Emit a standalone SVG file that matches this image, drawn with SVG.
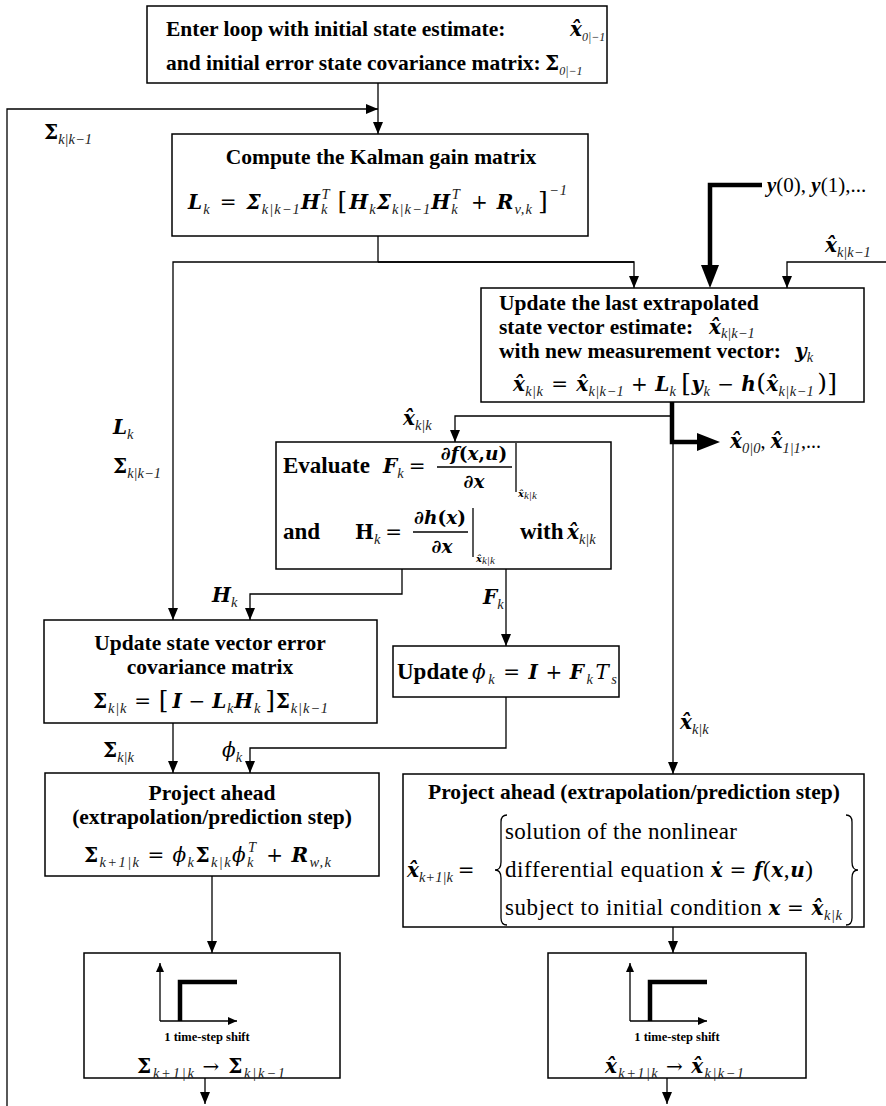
<svg xmlns="http://www.w3.org/2000/svg" width="886" height="1106" viewBox="0 0 886 1106">
<style>
text{font-family:"Liberation Serif","DejaVu Serif",serif;fill:#000;font-size:21px}
.box{fill:#fff;stroke:#000;stroke-width:1.5}
.ln{fill:none;stroke:#000;stroke-width:1.3}
.tk{fill:none;stroke:#000;stroke-width:4.5}
.b{font-weight:bold;font-size:21.5px}
.cmb{font-weight:bold;font-size:23px}
.cm{font-size:23px}
.m,.dj{font-family:"DejaVu Serif",serif;font-size:20px}
.bi{font-weight:bold;font-style:italic}
.bu{font-weight:bold}
.it{font-style:italic}
.sb{font-family:"Liberation Serif",serif;font-size:14.5px;font-style:italic;font-weight:normal;fill:#222}
.st{font-family:"Liberation Serif",serif;font-size:12px;font-style:italic;font-weight:normal;fill:#222}
.ss{font-family:"Liberation Serif",serif;font-size:11px;font-style:italic;font-weight:normal;fill:#222}
.br{font-size:25px;font-weight:normal}
.fr{font-family:"DejaVu Serif",serif;font-size:18.5px;font-weight:bold}
.tiny{font-weight:bold;font-size:12.5px}
</style>
<defs>
<marker id="ah" viewBox="0 0 12 10" refX="12" refY="5" markerWidth="12" markerHeight="10" markerUnits="userSpaceOnUse" orient="auto"><path d="M0,0 L12,5 L0,10 z" fill="#000"/></marker>
<marker id="ahs" viewBox="0 0 9 8" refX="9" refY="4" markerWidth="9" markerHeight="8" markerUnits="userSpaceOnUse" orient="auto"><path d="M0,0 L9,4 L0,8 z" fill="#000"/></marker>
</defs>

<g id="connectors">
<path class="ln" d="M378,83 L378,134" marker-end="url(#ah)"/>
<path class="ln" d="M7,1106 L7,109 L378,109" marker-end="url(#ah)"/>
<path class="ln" d="M378,236 L378,262"/>
<path class="ln" d="M634,262 L173,262 L173,620" marker-end="url(#ah)"/>
<path class="ln" d="M378,262 L634,262 L634,288" marker-end="url(#ah)"/>
<path class="tk" d="M762,185 L710,185 L710,270"/>
<path d="M701,265 L710,288 L719,265 z" fill="#000"/>
<path class="ln" d="M886,262 L787,262 L787,288" marker-end="url(#ah)"/>
<path class="ln" d="M673,402 L673,774" marker-end="url(#ah)"/>
<path class="ln" d="M673,416 L455,416 L455,442" marker-end="url(#ah)"/>
<path class="tk" d="M672,402 L672,442 L702,442"/>
<path d="M697,433 L720,442 L697,451 z" fill="#000"/>
<path class="ln" d="M402,569 L402,594 L250,594 L250,620" marker-end="url(#ah)"/>
<path class="ln" d="M506,569 L506,646" marker-end="url(#ah)"/>
<path class="ln" d="M506,697 L506,748 L250,748 L250,773" marker-end="url(#ah)"/>
<path class="ln" d="M173,723 L173,773" marker-end="url(#ah)"/>
<path class="ln" d="M212,876 L212,953" marker-end="url(#ah)"/>
<path class="ln" d="M673,927 L673,953" marker-end="url(#ah)"/>
<path class="ln" d="M205,1078 L205,1104" marker-end="url(#ah)"/>
<path class="ln" d="M667,1078 L667,1104" marker-end="url(#ah)"/>
</g>

<g id="labels">
<text class="m" x="44" y="139"><tspan class="bu">Σ</tspan><tspan class="sb" dy="5">k|k−1</tspan></text>
<text class="m" x="113" y="434"><tspan class="bi">L</tspan><tspan class="sb" dy="5">k</tspan></text>
<text class="m" x="113" y="473"><tspan class="bu">Σ</tspan><tspan class="sb" dy="5">k|k−1</tspan></text>
<text class="m" x="403" y="425"><tspan class="bi">x̂</tspan><tspan class="sb" dy="5">k|k</tspan></text>
<text class="m" x="212" y="602"><tspan class="bi">H</tspan><tspan class="sb" dy="5">k</tspan></text>
<text class="m" x="483" y="604"><tspan class="bi">F</tspan><tspan class="sb" dy="5">k</tspan></text>
<text class="m" x="103" y="757"><tspan class="bu">Σ</tspan><tspan class="sb" dy="5">k|k</tspan></text>
<text class="m" x="222" y="757"><tspan class="it">ϕ</tspan><tspan class="sb" dy="5">k</tspan></text>
<text class="m" x="680" y="729"><tspan class="bi">x̂</tspan><tspan class="sb" dy="5">k|k</tspan></text>
<text x="767" y="192" font-size="18.5"><tspan class="bi">y</tspan>(0), <tspan class="bi">y</tspan>(1),...</text>
<text class="m" x="825" y="252"><tspan class="bi">x̂</tspan><tspan class="sb" dy="5">k|k−1</tspan></text>
<text class="m" x="730" y="448"><tspan class="bi">x̂</tspan><tspan class="sb" dy="5">0|0</tspan><tspan dy="-5" font-family="Liberation Serif">, </tspan><tspan class="bi">x̂</tspan><tspan class="sb" dy="5">1|1</tspan><tspan dy="-5" font-family="Liberation Serif">,...</tspan></text>
</g>

<g id="start">
<rect class="box" x="147" y="6" width="460" height="77"/>
<text class="b" x="166" y="36">Enter loop with initial state estimate:</text>
<text class="m" x="570" y="36" font-size="18"><tspan class="bi">x̂</tspan><tspan class="st" dy="5">0|−1</tspan></text>
<text class="b" x="166" y="70">and initial error state covariance matrix:</text>
<text class="m" x="545" y="70" font-size="18"><tspan class="bu">Σ</tspan><tspan class="st" dy="5">0|−1</tspan></text>
</g>

<g id="kalman-gain">
<rect class="box" x="172" y="134" width="416" height="102"/>
<text class="b" x="381" y="164" text-anchor="middle" font-size="22">Compute the Kalman gain matrix</text>
<text class="m" x="188" y="209" textLength="379" lengthAdjust="spacing"><tspan class="bi">L</tspan><tspan class="sb" dy="5">k</tspan><tspan dy="-5" dx="9">=</tspan><tspan class="bi" dx="9">Σ</tspan><tspan class="sb" dy="5">k|k−1</tspan><tspan class="bi" dy="-5">H</tspan><tspan class="sb" dy="5">k</tspan><tspan class="sb" dx="-7" dy="-15">T</tspan><tspan class="br" dy="10" dx="7">[</tspan><tspan class="bi" dx="1">H</tspan><tspan class="sb" dy="5">k</tspan><tspan class="bi" dy="-5">Σ</tspan><tspan class="sb" dy="5">k|k−1</tspan><tspan class="bi" dy="-5">H</tspan><tspan class="sb" dy="5">k</tspan><tspan class="sb" dx="-7" dy="-15">T</tspan><tspan dy="10" dx="10">+</tspan><tspan class="bi" dx="8">R</tspan><tspan class="sb" dy="5">v,k</tspan><tspan class="br" dy="-5" dx="5">]</tspan><tspan class="sb" dy="-14">−1</tspan></text>
</g>

<g id="measurement-update">
<rect class="box" x="481" y="288" width="383" height="114"/>
<text class="b" x="499" y="310">Update the last extrapolated</text>
<text class="b" x="499" y="334">state vector estimate:</text>
<text class="m" x="709" y="334"><tspan class="bi">x̂</tspan><tspan class="sb" dy="4">k|k−1</tspan></text>
<text class="b" x="499" y="358">with new measurement vector:</text>
<text class="m" x="795" y="358"><tspan class="bi">y</tspan><tspan class="sb" dy="4">k</tspan></text>
<text class="m" x="513" y="391" textLength="324" lengthAdjust="spacing"><tspan class="bi">x̂</tspan><tspan class="sb" dy="5">k|k</tspan><tspan dy="-5" dx="8">=</tspan><tspan class="bi" dx="8">x̂</tspan><tspan class="sb" dy="5">k|k−1</tspan><tspan dy="-5" dx="7">+</tspan><tspan class="bi" dx="7">L</tspan><tspan class="sb" dy="5">k</tspan><tspan class="br" dy="-5" dx="5">[</tspan><tspan class="bi">y</tspan><tspan class="sb" dy="5">k</tspan><tspan dy="-5" dx="7">−</tspan><tspan class="bi" dx="7">h</tspan><tspan class="br">(</tspan><tspan class="bi">x̂</tspan><tspan class="sb" dy="5">k|k−1</tspan><tspan class="br" dy="-5" dx="3">)]</tspan></text>
</g>

<g id="evaluate-jacobians">
<rect class="box" x="276" y="442" width="335" height="127"/>
<text class="cmb" x="283" y="473">Evaluate</text>
<text class="m" x="383" y="473"><tspan class="bi">F</tspan><tspan class="sb" dy="5">k</tspan><tspan dy="-5" dx="5">=</tspan></text>
<text class="fr" x="474" y="460" text-anchor="middle">∂<tspan class="bi">f</tspan>(<tspan class="bi">x</tspan>,<tspan class="bi">u</tspan>)</text>
<line class="ln" x1="437" y1="467" x2="512" y2="467"/>
<text class="fr" x="474" y="488" text-anchor="middle">∂<tspan class="bi">x</tspan></text>
<line class="ln" x1="516" y1="443" x2="516" y2="492"/>
<text class="m" x="518" y="497"><tspan class="bi" font-size="10">x̂</tspan><tspan class="ss" dy="2">k|k</tspan></text>
<text class="cmb" x="283" y="539">and</text>
<text class="m" x="355" y="539"><tspan class="bu">H</tspan><tspan class="sb" dy="5">k</tspan><tspan dy="-5" dx="5">=</tspan></text>
<text class="fr" x="440" y="524" text-anchor="middle">∂<tspan class="bi">h</tspan>(<tspan class="bi">x</tspan>)</text>
<line class="ln" x1="413" y1="532" x2="468" y2="532"/>
<text class="fr" x="442" y="553" text-anchor="middle">∂<tspan class="bi">x</tspan></text>
<line class="ln" x1="473" y1="508" x2="473" y2="557"/>
<text class="m" x="476" y="562"><tspan class="bi" font-size="10">x̂</tspan><tspan class="ss" dy="2">k|k</tspan></text>
<text class="cmb" x="520" y="539">with</text>
<text class="m" x="567" y="539"><tspan class="bi">x̂</tspan><tspan class="sb" dy="5">k|k</tspan></text>
</g>

<g id="covariance-update">
<rect class="box" x="44" y="620" width="333" height="103"/>
<text class="b" x="210" y="650" text-anchor="middle">Update state vector error</text>
<text class="b" x="210" y="674" text-anchor="middle">covariance matrix</text>
<text class="m" x="93" y="708" textLength="235" lengthAdjust="spacing"><tspan class="bu">Σ</tspan><tspan class="sb" dy="5">k|k</tspan><tspan dy="-5" dx="7">=</tspan><tspan class="br" dx="7">[</tspan><tspan class="bi" dx="3">I</tspan><tspan dx="6">−</tspan><tspan class="bi" dx="6">L</tspan><tspan class="sb" dy="5">k</tspan><tspan class="bi" dy="-5">H</tspan><tspan class="sb" dy="5">k</tspan><tspan class="br" dy="-5" dx="4">]</tspan><tspan class="bu">Σ</tspan><tspan class="sb" dy="5">k|k−1</tspan></text>
</g>

<g id="phi-update">
<rect class="box" x="393" y="646" width="226" height="51"/>
<text class="cmb" x="397" y="679">Update</text>
<text class="m" x="472" y="679" textLength="145" lengthAdjust="spacing"><tspan class="it">ϕ</tspan><tspan class="sb" dy="5">k</tspan><tspan dy="-5" dx="6">=</tspan><tspan class="bi" dx="6">I</tspan><tspan dx="5">+</tspan><tspan class="bi" dx="5">F</tspan><tspan class="sb" dy="5">k</tspan><tspan class="it" dy="-5">T</tspan><tspan class="sb" dy="5">s</tspan></text>
</g>

<g id="covariance-projection">
<rect class="box" x="45" y="773" width="334" height="103"/>
<text class="b" x="212" y="800" text-anchor="middle">Project ahead</text>
<text class="b" x="212" y="824" text-anchor="middle">(extrapolation/prediction step)</text>
<text class="m" x="84" y="862" textLength="247" lengthAdjust="spacing"><tspan class="bu">Σ</tspan><tspan class="sb" dy="5">k+1|k</tspan><tspan dy="-5" dx="7">=</tspan><tspan class="it" dx="7">ϕ</tspan><tspan class="sb" dy="5">k</tspan><tspan class="bu" dy="-5">Σ</tspan><tspan class="sb" dy="5">k|k</tspan><tspan class="it" dy="-5">ϕ</tspan><tspan class="sb" dy="5">k</tspan><tspan class="sb" dx="-7" dy="-15">T</tspan><tspan dy="10" dx="9">+</tspan><tspan class="bi" dx="7">R</tspan><tspan class="sb" dy="5">w,k</tspan></text>
</g>

<g id="state-projection">
<rect class="box" x="403" y="774" width="461" height="153"/>
<text class="b" x="634" y="799" text-anchor="middle">Project ahead (extrapolation/prediction step)</text>
<text class="m" x="407" y="877"><tspan class="bi">x̂</tspan><tspan class="sb" dy="5">k+1|k</tspan><tspan dy="-5" dx="5">=</tspan></text>
<path class="ln" d="M507,815 Q501,815 501,822 L501,862 Q501,870 495,870 Q501,870 501,878 L501,918 Q501,925 507,925"/>
<path class="ln" d="M846,815 Q852,815 852,822 L852,862 Q852,870 858,870 Q852,870 852,878 L852,918 Q852,925 846,925"/>
<text class="cm" x="505" y="839" textLength="232" lengthAdjust="spacing">solution of the nonlinear</text>
<text class="cm" x="505" y="877" textLength="308" lengthAdjust="spacing">differential equation <tspan class="dj bi">ẋ</tspan><tspan class="dj" dx="6">=</tspan><tspan class="dj bi" dx="7">f</tspan>(<tspan class="dj bi">x</tspan>,<tspan class="dj bi">u</tspan>)</text>
<text class="cm" x="505" y="915" textLength="337" lengthAdjust="spacing">subject to initial condition <tspan class="dj bi">x</tspan><tspan class="dj" dx="6">=</tspan><tspan class="dj bi" dx="7">x̂</tspan><tspan class="sb" dy="5">k|k</tspan></text>
</g>

<g id="shift-covariance">
<rect class="box" x="84" y="953" width="256" height="125"/>
<path class="ln" d="M160,1021 L160,963" marker-end="url(#ahs)"/>
<path class="ln" d="M160,1021 L237,1021" marker-end="url(#ahs)"/>
<path class="tk" d="M180,1021 L180,982 L237,982" stroke-width="4"/>
<text class="tiny" x="207" y="1041" text-anchor="middle">1 time-step shift</text>
<text class="m" x="137" y="1073" textLength="148" lengthAdjust="spacing"><tspan class="bu">Σ</tspan><tspan class="sb" dy="5">k+1|k</tspan><tspan dy="-5" dx="7">→</tspan><tspan class="bu" dx="7">Σ</tspan><tspan class="sb" dy="5">k|k−1</tspan></text>
</g>

<g id="shift-state">
<rect class="box" x="548" y="953" width="258" height="125"/>
<path class="ln" d="M630,1021 L630,963" marker-end="url(#ahs)"/>
<path class="ln" d="M630,1021 L707,1021" marker-end="url(#ahs)"/>
<path class="tk" d="M650,1021 L650,982 L707,982" stroke-width="4"/>
<text class="tiny" x="677" y="1041" text-anchor="middle">1 time-step shift</text>
<text class="m" x="605" y="1073" textLength="139" lengthAdjust="spacing"><tspan class="bi">x̂</tspan><tspan class="sb" dy="5">k+1|k</tspan><tspan dy="-5" dx="7">→</tspan><tspan class="bi" dx="7">x̂</tspan><tspan class="sb" dy="5">k|k−1</tspan></text>
</g>
</svg>
